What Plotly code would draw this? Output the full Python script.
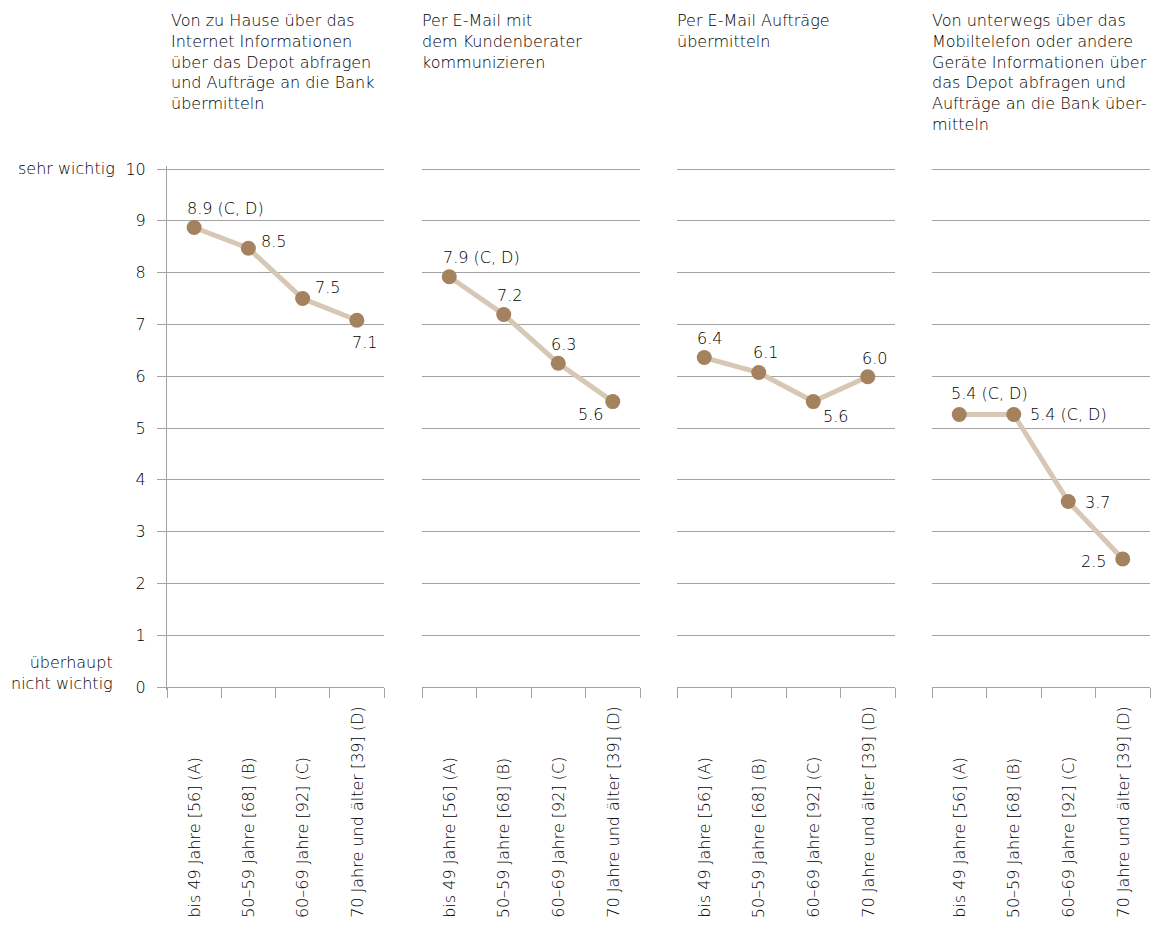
import plotly.graph_objects as go

# ---------------- data ----------------
categories = ["bis 49 Jahre [56] (A)", "50–59 Jahre [68] (B)",
              "60–69 Jahre [92] (C)", "70 Jahre und älter [39] (D)"]

panel_titles = [
    "Von zu Hause über das<br>Internet Informationen<br>über das Depot abfragen<br>und Aufträge an die Bank<br>übermitteln",
    "Per E-Mail mit<br>dem Kundenberater<br>kommunizieren",
    "Per E-Mail Aufträge<br>übermitteln",
    "Von unterwegs über das<br>Mobiltelefon oder andere<br>Geräte Informationen über<br>das Depot abfragen und<br>Aufträge an die Bank über-<br>mitteln",
]

values_home = [8.87, 8.47, 7.50, 7.08]
values_mail_advisor = [7.92, 7.19, 6.25, 5.51]
values_mail_orders = [6.36, 6.07, 5.51, 5.99]
values_mobile = [5.26, 5.26, 3.58, 2.47]

labels_home = ["8.9 (C, D)", "8.5", "7.5", "7.1"]
labels_mail_advisor = ["7.9 (C, D)", "7.2", "6.3", "5.6"]
labels_mail_orders = ["6.4", "6.1", "5.6", "6.0"]
labels_mobile = ["5.4 (C, D)", "5.4 (C, D)", "3.7", "2.5"]

y_ticks = [0, 1, 2, 3, 4, 5, 6, 7, 8, 9, 10]
y_top_label = "sehr wichtig"
y_bottom_label = "überhaupt<br>nicht wichtig"

series = [values_home, values_mail_advisor, values_mail_orders, values_mobile]
labels = [labels_home, labels_mail_advisor, labels_mail_orders, labels_mobile]

# ---------------- style ----------------
W, H = 1160, 927
OFF = 8  # page body margin
FONT = "DejaVu Sans, Liberation Sans, Arial, sans-serif"
FS = 16
TXT = "#000000"
GRID = "#a3a3a3"
LINE = "#d7c7b5"
MARK = "#a5825e"


def px_x(p):
    return (p - OFF) / W


def px_y(p):
    return (H - (p - OFF)) / H


Y_MIN, Y_MAX = -0.05, 10.05
Y0_PX, Y10_PX = 687, 169
unit = (Y0_PX - Y10_PX) / 10.0
dom_bottom_px = Y0_PX - (Y_MIN - 0) * unit
dom_top_px = Y0_PX - Y_MAX * unit
y_dom = [px_y(dom_bottom_px), px_y(dom_top_px)]

panel_px = [(167, 384), (422, 640), (677, 895), (932, 1150)]

# (xanchor, xshift, yshift) for each value label
label_pos = [
    [("left", -9.5, 19), ("left", 11, 6.3), ("left", 10, 11.3), ("left", -6.6, -22.7)],
    [("left", -8.3, 19.7), ("center", 6, 18.6), ("center", 5, 18.3), ("right", -8, -13.3)],
    [("center", 5.2, 19.4), ("center", 6.5, 19.6), ("left", 7.7, -15), ("center", 6.3, 18.4)],
    [("left", -10.3, 21), ("left", 14.7, 0), ("left", 14.3, -1), ("right", -14.7, -2.4)],
]
title_x = [169, 420, 675, 930]

fig = go.Figure()
positions = list(range(len(categories)))
annotations = []
txtfont = dict(family=FONT, size=FS, color=TXT, weight=300)

for i, (vals, labs) in enumerate(zip(series, labels)):
    s = "" if i == 0 else str(i + 1)
    xa, ya = "x" + s, "y" + s
    fig.add_trace(go.Scatter(
        x=positions, y=vals, mode="lines+markers",
        line=dict(color=LINE, width=5),
        marker=dict(color=MARK, size=15),
        xaxis=xa, yaxis=ya, cliponaxis=False, showlegend=False,
        hoverinfo="skip",
    ))
    x0, x1 = panel_px[i]
    fig.layout["xaxis" + s] = dict(
        domain=[px_x(x0), px_x(x1)], range=[-0.5, 3.5],
        anchor="free", position=px_y(Y0_PX),
        tickmode="array", tickvals=[p - 0.5 for p in positions] + [positions[-1] + 0.5],
        ticks="outside", ticklen=10, tickwidth=1, tickcolor=GRID,
        showticklabels=False, showgrid=False, zeroline=False, showline=False,
        automargin=False, fixedrange=True,
    )
    fig.layout["yaxis" + s] = dict(
        domain=y_dom, range=[Y_MIN, Y_MAX], anchor=xa,
        tickmode="array", tickvals=y_ticks,
        showgrid=True, gridcolor=GRID, gridwidth=1, zeroline=False,
        showline=(i == 0), linecolor=GRID, linewidth=1,
        ticks="outside" if i == 0 else "", ticklen=9, tickcolor=GRID,
        showticklabels=(i == 0), ticklabelstandoff=8,
        tickfont=txtfont, automargin=False, fixedrange=True,
    )
    # value labels
    for p, v, t, (xan, xs, ys) in zip(positions, vals, labs, label_pos[i]):
        annotations.append(dict(
            x=p, y=v, xref=xa, yref=ya, text=t, showarrow=False,
            xanchor=xan, yanchor="middle", xshift=xs, yshift=ys, font=txtfont,
        ))
    # category labels (rotated)
    for p, c in zip(positions, categories):
        annotations.append(dict(
            x=p, y=px_y(920), xref=xa, yref="paper", text=c, showarrow=False,
            textangle=-90, xanchor="center", yanchor="bottom", font=txtfont,
        ))
    # panel title
    annotations.append(dict(
        x=px_x(title_x[i]), y=px_y(9), xref="paper", yref="paper",
        text=panel_titles[i], showarrow=False, align="left",
        xanchor="left", yanchor="top", font=txtfont,
    ))

annotations.append(dict(
    x=px_x(117), y=10, xref="paper", yref="y", text=y_top_label, showarrow=False,
    xanchor="right", yanchor="middle", font=txtfont,
))
annotations.append(dict(
    x=px_x(115), y=0, xref="paper", yref="y", text=y_bottom_label, showarrow=False,
    xanchor="right", yanchor="middle", align="right", yshift=14, font=txtfont,
))

fig.update_layout(
    width=W, height=H, margin=dict(l=0, r=0, t=0, b=0, autoexpand=False),
    paper_bgcolor="white", plot_bgcolor="white",
    annotations=annotations, showlegend=False,
)

fig.write_html("out.html")
